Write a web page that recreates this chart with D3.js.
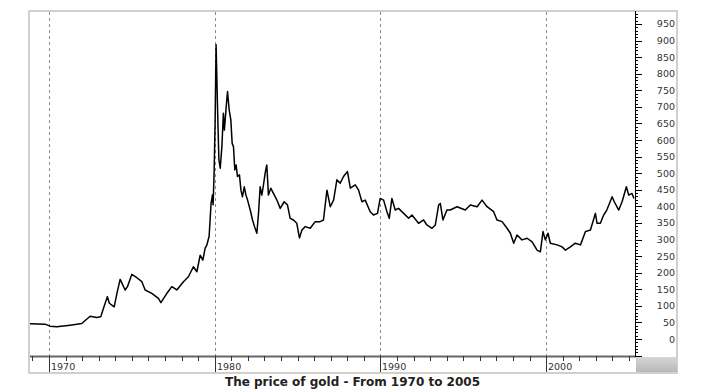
<!DOCTYPE html>
<html>
<head>
<meta charset="utf-8">
<script src="https://cdn.jsdelivr.net/npm/d3@7"></script>
<style>
  body { margin: 0; background: #fff; }
  text { font-family: "DejaVu Sans", Verdana, sans-serif; }
</style>
</head>
<body>
<div id="container"></div>
<script>
// [year, price in USD/oz]
const goldPrices = [
  [1968.85, 46], [1969.76, 45], [1970.06, 39], [1970.46, 37], [1971.27, 42], [1971.97, 47],
  [1972.48, 69], [1972.88, 65], [1973.12, 67], [1973.28, 92], [1973.52, 128], [1973.64, 108],
  [1973.93, 97], [1974.12, 143], [1974.29, 180], [1974.59, 148], [1974.73, 158], [1974.99, 195],
  [1975.30, 185], [1975.60, 173], [1975.80, 148], [1976.20, 138], [1976.60, 123], [1976.75, 110],
  [1977.11, 138], [1977.41, 158], [1977.71, 148], [1978.11, 173], [1978.41, 188], [1978.71, 218],
  [1978.92, 203], [1979.12, 253], [1979.28, 238], [1979.42, 274], [1979.52, 283], [1979.66, 310],
  [1979.78, 410], [1979.86, 434], [1979.90, 405], [1979.96, 500], [1980.02, 651], [1980.08, 887],
  [1980.14, 757], [1980.17, 691], [1980.25, 540], [1980.33, 515], [1980.43, 580], [1980.52, 681],
  [1980.58, 630], [1980.69, 700], [1980.77, 746], [1980.87, 691], [1980.97, 661], [1981.05, 590],
  [1981.13, 580], [1981.21, 510], [1981.29, 525], [1981.37, 490], [1981.49, 495], [1981.58, 449],
  [1981.67, 429], [1981.78, 459], [1981.88, 434], [1981.98, 419], [1982.14, 389], [1982.28, 359],
  [1982.40, 339], [1982.54, 319], [1982.64, 379], [1982.74, 459], [1982.84, 434], [1982.94, 465],
  [1983.04, 500], [1983.14, 525], [1983.24, 434], [1983.38, 455], [1983.54, 439], [1983.75, 419],
  [1983.95, 394], [1984.19, 414], [1984.39, 404], [1984.55, 364], [1984.75, 359], [1984.95, 349],
  [1985.11, 305], [1985.26, 329], [1985.46, 339], [1985.76, 334], [1986.06, 354], [1986.36, 354],
  [1986.56, 359], [1986.77, 449], [1986.97, 399], [1987.17, 419], [1987.37, 480], [1987.57, 470],
  [1987.77, 490], [1988.01, 505], [1988.18, 455], [1988.48, 465], [1988.68, 449], [1988.88, 414],
  [1989.08, 419], [1989.38, 384], [1989.58, 374], [1989.82, 379], [1989.98, 424], [1990.19, 419],
  [1990.39, 384], [1990.53, 364], [1990.69, 424], [1990.89, 389], [1991.09, 394], [1991.40, 379],
  [1991.70, 364], [1991.90, 374], [1992.30, 349], [1992.60, 359], [1992.80, 344], [1993.11, 334],
  [1993.31, 344], [1993.51, 404], [1993.61, 409], [1993.77, 359], [1994.01, 389], [1994.21, 389],
  [1994.62, 399], [1995.12, 389], [1995.42, 404], [1995.83, 399], [1996.13, 419], [1996.43, 399],
  [1996.83, 384], [1997.03, 359], [1997.34, 354], [1997.64, 334], [1997.84, 319], [1998.04, 289],
  [1998.24, 314], [1998.54, 299], [1998.85, 304], [1999.15, 293], [1999.45, 268], [1999.65, 263],
  [1999.81, 324], [1999.95, 299], [2000.11, 319], [2000.25, 289], [2000.66, 284], [2000.96, 278],
  [2001.16, 268], [2001.46, 278], [2001.76, 289], [2002.07, 284], [2002.37, 324], [2002.67, 329],
  [2002.97, 379], [2003.07, 349], [2003.27, 349], [2003.47, 374], [2003.66, 389], [2003.98, 429],
  [2004.11, 414], [2004.38, 389], [2004.58, 414], [2004.84, 459], [2004.98, 434], [2005.18, 439],
  [2005.30, 424]
];

const decadeTicks = [1970, 1980, 1990, 2000];
const priceLabels = [0, 50, 100, 150, 200, 250, 300, 350, 400, 450, 500, 550, 600, 650, 700, 750, 800, 850, 900, 950];
const title = "The price of gold - From 1970 to 2005";

const w = 710;
const h = 392;

const svg = d3.select("#container")
              .append("svg")
              .attr("width", w)
              .attr("height", h);

const plotLeft = 30, plotRight = 635, plotTop = 12, plotBottom = 356;

const x = d3.scaleLinear().domain([1968.85, 2005.3]).range([plotLeft, plotRight - 1]);
const y = d3.scaleLinear().domain([-51, 986]).range([plotBottom, plotTop]);

// frame
svg.append("rect")
   .attr("x", 29).attr("y", 11)
   .attr("width", 648).attr("height", 362)
   .attr("fill", "#fff")
   .attr("stroke", "#d4d0c8")
   .attr("stroke-width", 2);

const grad = svg.append("defs").append("linearGradient")
                .attr("id", "corner").attr("x1", 0).attr("y1", 0).attr("x2", 0).attr("y2", 1);
grad.append("stop").attr("offset", "0%").attr("stop-color", "#d6d6d6");
grad.append("stop").attr("offset", "100%").attr("stop-color", "#b8b8b8");

svg.append("rect")
   .attr("x", plotRight + 1).attr("y", plotBottom + 1)
   .attr("width", 41).attr("height", 15)
   .attr("fill", "url(#corner)");

// dashed decade lines
svg.append("g")
   .selectAll("line")
   .data(decadeTicks)
   .enter()
   .append("line")
   .attr("x1", d => Math.round(x(d)) + 0.5)
   .attr("x2", d => Math.round(x(d)) + 0.5)
   .attr("y1", plotTop)
   .attr("y2", plotBottom)
   .attr("stroke", "#8a8a8a")
   .attr("stroke-dasharray", "3,3");

// price line
const line = d3.line()
               .x(d => x(d[0]))
               .y(d => y(d[1]));

svg.append("path")
   .datum(goldPrices)
   .attr("d", line)
   .attr("fill", "none")
   .attr("stroke", "#000")
   .attr("stroke-width", 1.5)
   .attr("stroke-linejoin", "round");

// bottom axis
svg.append("line")
   .attr("x1", plotLeft).attr("x2", plotRight + 1)
   .attr("y1", plotBottom + 0.5).attr("y2", plotBottom + 0.5)
   .attr("stroke", "#666")
   .attr("stroke-width", 2);

const yearTicks = d3.range(1969, 2006);

svg.append("g")
   .selectAll("line")
   .data(yearTicks.filter(d => decadeTicks.indexOf(d) < 0))
   .enter()
   .append("line")
   .attr("x1", d => Math.round(x(d)) + 0.5)
   .attr("x2", d => Math.round(x(d)) + 0.5)
   .attr("y1", plotBottom)
   .attr("y2", plotBottom + 5)
   .attr("stroke", "#333");

const decadeGroups = svg.append("g")
                        .selectAll("g")
                        .data(decadeTicks)
                        .enter()
                        .append("g");

decadeGroups.append("line")
            .attr("x1", d => Math.round(x(d)) + 0.5)
            .attr("x2", d => Math.round(x(d)) + 0.5)
            .attr("y1", plotBottom)
            .attr("y2", plotBottom + 16)
            .attr("stroke", "#333");

decadeGroups.append("text")
            .attr("x", d => Math.round(x(d)) + 2)
            .attr("y", plotBottom + 14)
            .style("font-size", "9.5px")
            .attr("fill", "#333")
            .text(d => d);

// right axis
svg.append("line")
   .attr("x1", plotRight + 0.5).attr("x2", plotRight + 0.5)
   .attr("y1", plotTop - 1).attr("y2", plotBottom + 1)
   .attr("stroke", "#000");

svg.append("g")
   .selectAll("line")
   .data(d3.range(-50, 990, 10))
   .enter()
   .append("line")
   .attr("x1", plotRight)
   .attr("x2", d => plotRight + (d % 50 === 0 ? 7 : 3))
   .attr("y1", d => Math.round(y(d)) + 0.5)
   .attr("y2", d => Math.round(y(d)) + 0.5)
   .attr("stroke", "#000");

svg.append("g")
   .selectAll("text")
   .data(priceLabels)
   .enter()
   .append("text")
   .attr("x", 675)
   .attr("y", d => y(d) + 3.5)
   .attr("text-anchor", "end")
   .style("font-size", "9.5px")
   .attr("fill", "#333")
   .text(d => d);

// title
svg.append("text")
   .attr("x", 352.5)
   .attr("y", 386)
   .attr("text-anchor", "middle")
   .style("font-size", "12px")
   .style("font-weight", "bold")
   .attr("fill", "#222")
   .text(title);
</script>
</body>
</html>
